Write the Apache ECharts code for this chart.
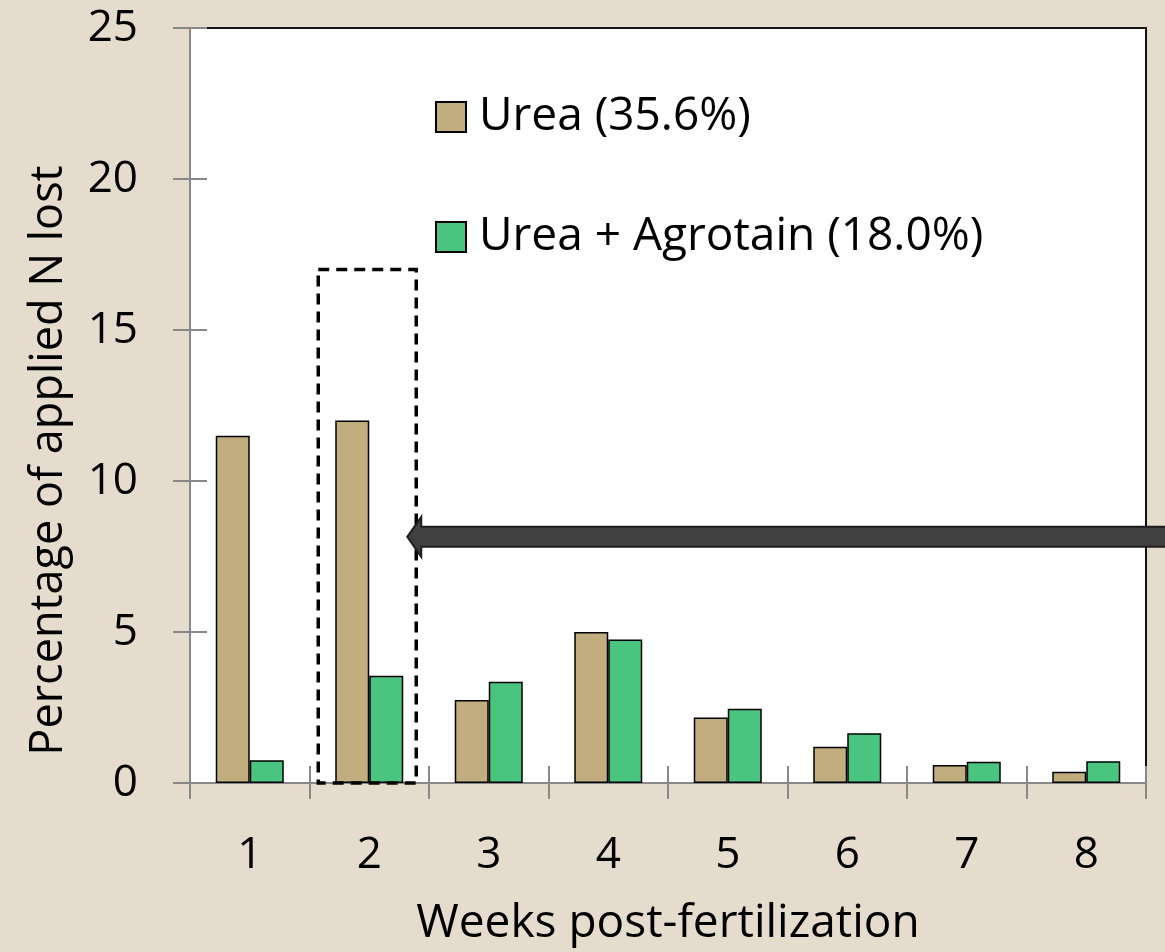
<!DOCTYPE html>
<html>
<head>
<meta charset="utf-8">
<script src="https://cdn.jsdelivr.net/npm/echarts@6/dist/echarts.min.js"></script>
<style>
  html, body { margin: 0; padding: 0; background: #e5dccd; }
  #main { width: 1165px; height: 952px; }
</style>
</head>
<body>
<div id="main"></div>
<script>
var weeks = ['1', '2', '3', '4', '5', '6', '7', '8'];
var urea = [11.5, 12.0, 2.75, 5.0, 2.17, 1.2, 0.6, 0.37];
var ureaAgrotain = [0.75, 3.55, 3.35, 4.75, 2.46, 1.65, 0.7, 0.72];
var seriesNames = ['Urea (35.6%)', 'Urea + Agrotain (18.0%)'];
var yTicks = [0, 5, 10, 15, 20, 25];
// dashed box around week 2 and the arrow pointing at it
var boxTop = 17;
var arrowLevel = 8.15;

var myChart = echarts.init(document.getElementById('main'));

var font = '"Open Sans", "DejaVu Sans", sans-serif';

var option = {
    backgroundColor: '#e5dccd',
    animation: false,
    textStyle: { fontFamily: font },
    grid: {
        left: 190, right: 19, top: 28, bottom: 168,
        show: true,
        backgroundColor: '#ffffff',
        borderColor: '#111111',
        borderWidth: 2
    },
    legend: {
        orient: 'vertical',
        left: 435,
        top: 93,
        padding: 0,
        itemWidth: 30,
        itemHeight: 30,
        itemGap: 72,
        icon: 'rect',
        textStyle: { fontSize: 46, lineHeight: 48, color: '#000', fontFamily: font, padding: [0, 0, 0, 8] },
        data: seriesNames
    },
    xAxis: [{
        type: 'category',
        data: weeks,
        position: 'bottom',
        name: 'Weeks post-fertilization',
        nameLocation: 'middle',
        nameGap: 118,
        nameTextStyle: { fontSize: 46, color: '#000', fontFamily: font },
        axisLine: { lineStyle: { color: '#888', width: 2 } },
        axisTick: { show: true, length: 16, lineStyle: { color: '#888', width: 2 } },
        axisLabel: { fontSize: 44, color: '#000', margin: 50, fontFamily: font }
    }, {
        type: 'category',
        data: weeks,
        position: 'bottom',
        axisLine: { show: false },
        axisTick: { show: true, inside: true, length: 17, lineStyle: { color: '#888', width: 2 } },
        axisLabel: { show: false }
    }],
    yAxis: [{
        type: 'value',
        min: 0, max: 25, interval: 5,
        name: 'Percentage of applied N lost',
        nameLocation: 'middle',
        nameGap: 118,
        nameTextStyle: { fontSize: 45, color: '#000', fontFamily: font, padding: [0, 110, 0, 0] },
        axisLine: { show: true, lineStyle: { color: '#888', width: 2 } },
        axisTick: { show: true, length: 17, lineStyle: { color: '#888', width: 2 } },
        axisLabel: {
            fontSize: 44, color: '#000', margin: 52, fontFamily: font,
            formatter: function (v) { return yTicks.indexOf(v) >= 0 ? String(v) : ''; }
        },
        splitLine: { show: false }
    }, {
        type: 'value',
        min: 0, max: 25, interval: 5,
        position: 'left',
        axisLine: { show: false },
        axisTick: { show: true, inside: true, length: 17, lineStyle: { color: '#888', width: 2 } },
        axisLabel: { show: false },
        splitLine: { show: false }
    }],
    series: [{
        name: seriesNames[0],
        type: 'bar',
        data: urea,
        barWidth: 34,
        barGap: '0%',
        itemStyle: { color: '#c2ad7e', borderColor: '#000', borderWidth: 1.5 }
    }, {
        name: seriesNames[1],
        type: 'bar',
        data: ureaAgrotain,
        barWidth: 34,
        itemStyle: { color: '#4ac580', borderColor: '#000', borderWidth: 1.5 }
    }]
};
myChart.setOption(option);

// annotations positioned from the chart's own scales
var cx = myChart.convertToPixel({ xAxisIndex: 0 }, weeks[1]);
var yTop = myChart.convertToPixel({ yAxisIndex: 0 }, boxTop);
var y0 = myChart.convertToPixel({ yAxisIndex: 0 }, 0);
var ay = myChart.convertToPixel({ yAxisIndex: 0 }, arrowLevel);
var tip = cx + 38, back = cx + 52;

myChart.setOption({
    graphic: [{
        type: 'rect',
        z: 100,
        shape: { x: cx - 51, y: yTop, width: 98, height: y0 - yTop },
        style: { fill: 'none', stroke: '#000', lineWidth: 3.5, lineDash: [11, 7] }
    }, {
        type: 'polygon',
        z: 101,
        shape: {
            points: [
                [tip, ay], [back, ay - 20], [back, ay - 10], [1175, ay - 10],
                [1175, ay + 10], [back, ay + 10], [back, ay + 20]
            ]
        },
        style: { fill: '#404040', stroke: '#1e1e1e', lineWidth: 2 }
    }]
});
</script>
</body>
</html>
